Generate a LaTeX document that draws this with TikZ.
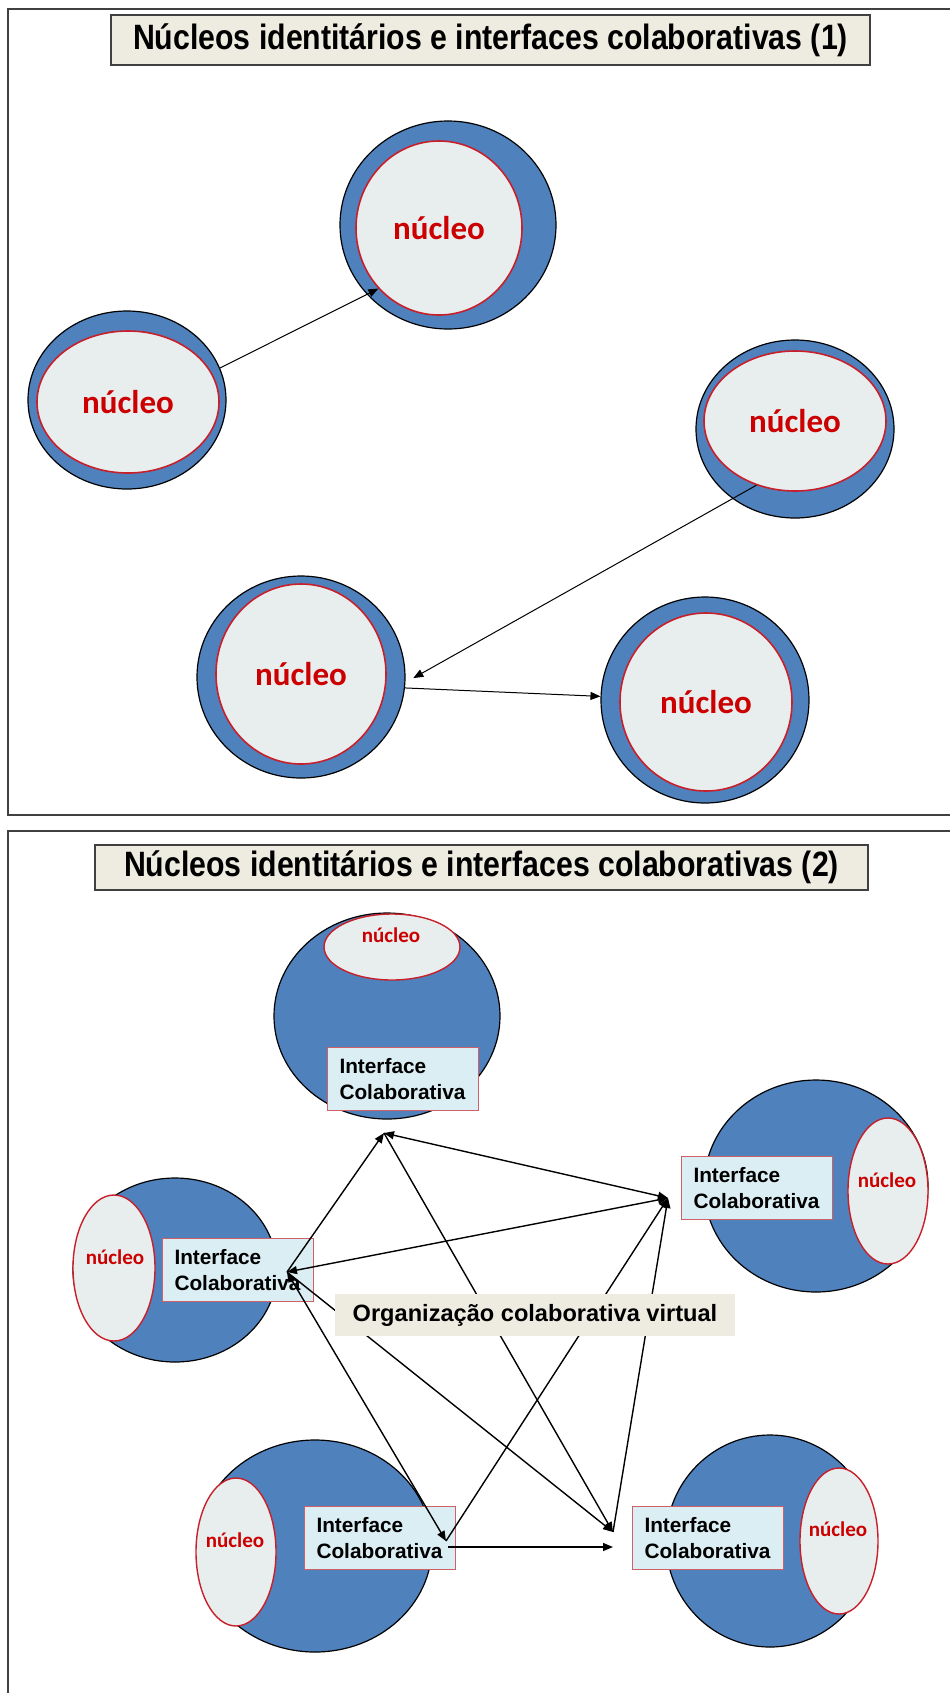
\documentclass[tikz,border=0pt]{standalone}
\usepackage{fontspec}
\setmainfont{Liberation Sans}
\newfontfamily\calib{Carlito}
\newfontfamily\narrowsans[FakeStretch=0.86]{Liberation Sans}
\usetikzlibrary{arrows.meta,shapes.geometric}
\definecolor{cblue}{HTML}{4F81BD}
\definecolor{cinner}{HTML}{E8EDEE}
\definecolor{cred}{HTML}{C8202A}
\definecolor{ctext}{HTML}{CC0000}
\definecolor{ctan}{HTML}{EEECE1}
\definecolor{cbox}{HTML}{DBEEF4}
\definecolor{cboxb}{HTML}{D06068}
\definecolor{cframe}{HTML}{404040}
\begin{document}
\begin{tikzpicture}[x=0.5pt,y=-0.5pt,
  frame/.style={draw=cframe, line width=1pt},
  ttl/.style={draw=cframe, line width=0.8pt, fill=ctan, inner sep=0pt, font=\narrowsans\bfseries\fontsize{17.6}{20}\selectfont},
  outer/.style={ellipse, draw=black, line width=0.6pt, fill=cblue, inner sep=0pt},
  inner/.style={ellipse, draw=cred, line width=0.8pt, fill=cinner, inner sep=0pt, text=ctext, font=\calib\bfseries\fontsize{16.5}{18}\selectfont},
  nuc/.style={ellipse, draw=cred, line width=0.7pt, fill=cinner, inner sep=0pt},
  nuctext/.style={inner sep=0pt, text=ctext, font=\calib\bfseries\fontsize{10.5}{12}\selectfont},
  iface/.style={draw=cboxb, line width=0.7pt, fill=cbox, inner xsep=6pt, inner ysep=0pt, minimum width=75.5pt, minimum height=31.5pt, text width=63.5pt, align=left, font=\bfseries\fontsize{10.4}{12.8}\selectfont},
  org/.style={fill=ctan, inner sep=0pt, minimum width=200pt, minimum height=21pt, font=\bfseries\fontsize{11.8}{14}\selectfont},
  arrA/.style={-{Triangle[length=5pt,width=4pt]}, line width=0.5pt},
  arrB/.style={-{Triangle[length=5pt,width=4pt]}, line width=0.7pt},
  arrC/.style={{Triangle[length=5pt,width=4pt]}-{Triangle[length=5pt,width=4pt]}, line width=0.7pt}
]
\useasboundingbox (0,0) rectangle (949,1693);
\fill[white] (0,0) rectangle (949,1693);

% ---------- panel 1 ----------
\draw[frame] (960,9) -- (8,9) -- (8,815) -- (960,815);
\node[ttl, minimum width=379.5pt, minimum height=25pt] (t1) at (490.5,40) {Núcleos identitários e interfaces colaborativas (1)};

\node[outer, minimum width=108pt, minimum height=104pt] (to) at (448,225) {};
\node[inner, minimum width=83pt, minimum height=87pt] (ti) at (439,228) {núcleo};
\node[outer, minimum width=99pt, minimum height=89pt] (lo) at (127,400) {};
\node[inner, minimum width=91pt, minimum height=71pt] (li) at (128,402) {núcleo};
\node[outer, minimum width=99pt, minimum height=89pt] (ro) at (795,429) {};
\node[inner, minimum width=91pt, minimum height=70pt] (ri) at (795,421) {núcleo};
\node[outer, minimum width=104pt, minimum height=101pt] (blo) at (301,677) {};
\node[inner, minimum width=85pt, minimum height=90pt] (bli) at (301,674) {núcleo};
\node[outer, minimum width=104pt, minimum height=103pt] (bro) at (705,700) {};
\node[inner, minimum width=86pt, minimum height=89pt] (bri) at (706,702) {núcleo};

\draw[arrA] (lo.19) -- (ti.225);
\draw[arrA, shorten >=4.5pt] (ri.239) -- (blo.-3);
\draw[arrA] (blo.-6) -- (bro.178);

% ---------- panel 2 ----------
\draw[frame] (960,831) -- (8,831) -- (8,1710);
\node[ttl, minimum width=386.5pt, minimum height=22.5pt] (t2) at (481.5,867.5) {Núcleos identitários e interfaces colaborativas (2)};

% top
\node[outer, minimum width=113pt, minimum height=103pt] (pto) at (387,1016) {};
\node[nuc, minimum width=68pt, minimum height=33pt] (ptn) at (392,947) {};
\node[nuctext] (ptt) at (391,935) {núcleo};
\node[iface] (ptb) at (403,1079) {Interface\\Colaborativa};
% right
\node[outer, minimum width=112pt, minimum height=106pt] (pro) at (816,1186) {};
\node[nuc, minimum width=40pt, minimum height=73pt] (prn) at (888,1191) {};
\node[nuctext] (prt) at (887,1180) {núcleo};
\node[iface] (prb) at (757,1188) {Interface\\Colaborativa};
% left
\node[outer, minimum width=102pt, minimum height=92pt] (plo) at (175,1270) {};
\node[nuc, minimum width=41pt, minimum height=73pt] (pln) at (114,1268) {};
\node[nuctext] (plt) at (115,1257) {núcleo};
\node[iface] (plb) at (238,1270) {Interface\\Colaborativa};
% bottom left
\node[outer, minimum width=117pt, minimum height=106pt] (pbo) at (315,1546) {};
\node[nuc, minimum width=40pt, minimum height=74pt] (pbn) at (236,1552) {};
\node[nuctext] (pbt) at (235,1540) {núcleo};
\node[iface] (pbb) at (380,1538) {Interface\\Colaborativa};
% bottom right
\node[outer, minimum width=104pt, minimum height=106pt] (pco) at (770,1541) {};
\node[nuc, minimum width=39pt, minimum height=73pt] (pcn) at (839,1541) {};
\node[nuctext] (pct) at (838,1529) {núcleo};
\node[iface] (pcb) at (708,1538) {Interface\\Colaborativa};

% hubs
\coordinate (hT) at (384,1133);
\coordinate (hR) at (668,1198);
\coordinate (hL) at (287,1272);
\coordinate (hBL) at (446,1541);
\coordinate (hBR) at (613,1532);
\coordinate (hBLh) at (448,1547);
\coordinate (hBRh) at (613,1547);

\draw[arrB] (hL) -- (hT);
\draw[arrC] (hL) -- (hR);
\draw[arrC] (hL) -- (hBL);
\draw[arrB] (hL) -- (hBR);
\draw[arrC] (hT) -- (hR);
\draw[arrB] (hT) -- (hBR);
\draw[arrB] (hBL) -- (hR);
\draw[arrB] (hBR) -- (hR);
\draw[arrB] (hBLh) -- (hBRh);

\node[org] (og) at (535,1315) {Organização colaborativa virtual};
\end{tikzpicture}
\end{document}
